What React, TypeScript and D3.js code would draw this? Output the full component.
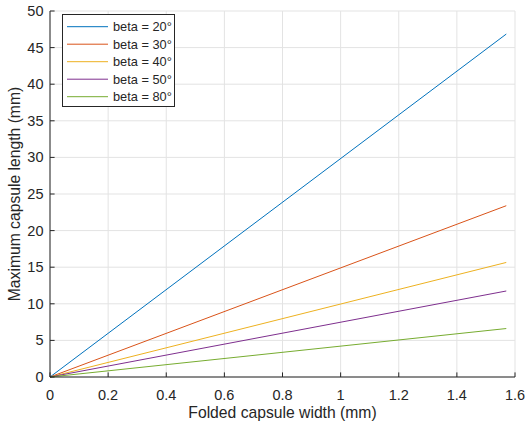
import React from "react";
import * as d3 from "d3";

const widths = [0, 1.57];
const beta20 = [0, 46.85];
const beta30 = [0, 23.4];
const beta40 = [0, 15.65];
const beta50 = [0, 11.75];
const beta80 = [0, 6.62];
const seriesNames = ["beta = 20°", "beta = 30°", "beta = 40°", "beta = 50°", "beta = 80°"];
const seriesColors = ["#0072BD", "#D95319", "#EDB120", "#7E2F8E", "#77AC30"];
const xTicks = [0, 0.2, 0.4, 0.6, 0.8, 1, 1.2, 1.4, 1.6];
const yTicks = [0, 5, 10, 15, 20, 25, 30, 35, 40, 45, 50];

export default function App() {
  const W = 526, H = 425;
  const left = 50, right = 515, top = 11, bottom = 377;
  const x = d3.scaleLinear().domain([0, 1.6]).range([left, right]);
  const y = d3.scaleLinear().domain([0, 50]).range([bottom, top]);
  const all = [beta20, beta30, beta40, beta50, beta80];
  const line = d3.line<[number, number]>().x(d => x(d[0])).y(d => y(d[1]));
  const font = "'Liberation Sans', Arial, sans-serif";
  const tc = "#262626";
  return (
    <svg width={W} height={H} style={{ position: "absolute", left: 0, top: 0, background: "#fff" }}>
      <rect x={0} y={0} width={W} height={H} fill="#fff" />
      {xTicks.map(t => (
        <line key={"gx" + t} x1={x(t)} x2={x(t)} y1={top} y2={bottom} stroke="#e3e3e3" strokeWidth={1} />
      ))}
      {yTicks.map(t => (
        <line key={"gy" + t} x1={left} x2={right} y1={y(t)} y2={y(t)} stroke="#e3e3e3" strokeWidth={1} />
      ))}
      {all.map((s, i) => (
        <path key={"s" + i} d={line(widths.map((w, j) => [w, s[j]] as [number, number])) || ""}
          fill="none" stroke={seriesColors[i]} strokeWidth={1} />
      ))}
      <line x1={left} x2={left} y1={top} y2={bottom} stroke={tc} strokeWidth={1} />
      <line x1={left} x2={right} y1={bottom} y2={bottom} stroke={tc} strokeWidth={1} />
      {xTicks.map(t => (
        <g key={"xt" + t}>
          <line x1={x(t)} x2={x(t)} y1={bottom} y2={bottom - 4.6} stroke={tc} strokeWidth={1} />
          <text x={x(t)} y={400} textAnchor="middle" fontFamily={font} fontSize={14.5} fill={tc}>{String(t)}</text>
        </g>
      ))}
      {yTicks.map(t => (
        <g key={"yt" + t}>
          <line x1={left} x2={left + 4.6} y1={y(t)} y2={y(t)} stroke={tc} strokeWidth={1} />
          <text x={43.5} y={y(t) + 5} textAnchor="end" fontFamily={font} fontSize={14.5} fill={tc}>{String(t)}</text>
        </g>
      ))}
      <text x={(left + right) / 2} y={418} textAnchor="middle" fontFamily={font} fontSize={15.7} fill={tc}>Folded capsule width (mm)</text>
      <text transform={`translate(20,${(top + bottom) / 2}) rotate(-90)`} textAnchor="middle" fontFamily={font} fontSize={15.7} fill={tc}>Maximum capsule length (mm)</text>
      <rect x={62.5} y={14.5} width={112} height={92} fill="#fff" stroke={tc} strokeWidth={1} />
      {seriesNames.map((n, i) => (
        <g key={"lg" + i}>
          <line x1={67} x2={108} y1={26.7 + i * 17.5} y2={26.7 + i * 17.5} stroke={seriesColors[i]} strokeWidth={1} />
          <text x={113} y={26.7 + i * 17.5 + 4.5} fontFamily={font} fontSize={12.8} fill={tc}>{n}</text>
        </g>
      ))}
    </svg>
  );
}
